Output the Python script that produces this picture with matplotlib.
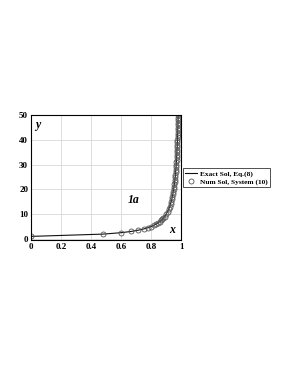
import matplotlib.pyplot as plt

plt.rcParams['font.family'] = ['Liberation Serif', 'DejaVu Serif']
plt.rcParams['font.weight'] = 'bold'

# values
x_vals = [0.0, 0.479, 0.6, 0.667, 0.714, 0.75, 0.778, 0.8, 0.818, 0.833,
          0.846, 0.857, 0.867, 0.875, 0.882, 0.889, 0.9, 0.909, 0.917, 0.923,
          0.929, 0.933, 0.9375, 0.941, 0.944, 0.947, 0.95, 0.952, 0.955, 0.957,
          0.958, 0.96, 0.962, 0.963, 0.964, 0.966, 0.967, 0.968, 0.969, 0.970,
          0.971, 0.9714, 0.972, 0.973, 0.974, 0.9744, 0.975, 0.9756, 0.976, 0.9767,
          0.977, 0.978, 0.9783, 0.9787, 0.979, 0.9796, 0.98]
y_vals = [1, 1.92, 2.5, 3, 3.5, 4, 4.5, 5, 5.5, 6,
          6.5, 7, 7.5, 8, 8.5, 9, 10, 11, 12, 13,
          14, 15, 16, 17, 18, 19, 20, 21, 22, 23,
          24, 25, 26, 27, 28, 29, 30, 31, 32, 33,
          34, 35, 36, 37, 38, 39, 40, 41, 42, 43,
          44, 45, 46, 47, 48, 49, 50]

fig = plt.figure(figsize=(2.89, 3.74), dpi=100)
ax = fig.add_axes([0.107, 0.358, 0.52, 0.334])

ax.plot(x_vals, y_vals, color='#111111', lw=0.8, label='Exact Sol, Eq.(8)')
ax.plot(x_vals, y_vals, ls='none', marker='o', ms=3.6, mfc='none', mec='#555555',
        mew=0.6, label='Num Sol, System (10)')

ax.set_xlim(0, 1)
ax.set_ylim(-0.5, 50)
ax.set_xticks([0, 0.2, 0.4, 0.6, 0.8, 1])
ax.set_xticklabels(['0', '0.2', '0.4', '0.6', '0.8', '1'])
ax.set_yticks([0, 10, 20, 30, 40, 50])
ax.tick_params(labelsize=6.5, length=0, pad=2)
ax.grid(color='#d8d8d8', lw=0.6)
for s in ax.spines.values():
    s.set_linewidth(0.8)

ax.text(0.03, 0.97, 'y', transform=ax.transAxes, fontsize=8.5, style='italic',
        fontweight='bold', va='top', ha='left')
ax.text(0.96, 0.03, 'x', transform=ax.transAxes, fontsize=8.5, style='italic',
        fontweight='bold', va='bottom', ha='right')
ax.text(0.68, 0.3, '1a', transform=ax.transAxes, fontsize=8.5, style='italic',
        fontweight='bold', ha='center')

leg = ax.legend(loc='center left', bbox_to_anchor=(1.01, 0.5), fontsize=5.3,
                frameon=True, fancybox=False, edgecolor='black', borderpad=0.3,
                handlelength=1.6, handletextpad=0.4, labelspacing=0.2,
                borderaxespad=0)
leg.get_frame().set_linewidth(0.6)

fig.savefig('out.png', dpi=100)
